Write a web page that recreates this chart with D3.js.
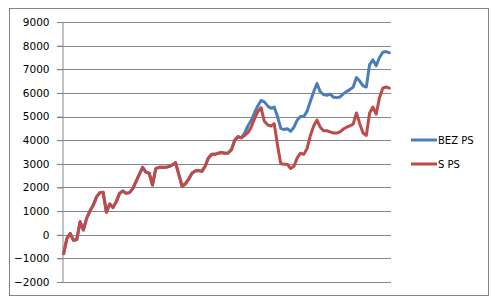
<!DOCTYPE html>
<html>
<head>
<meta charset="utf-8">
<style>
  body { margin: 0; background: #fff; }
  svg text { font-family: "DejaVu Sans", sans-serif; fill: #000; }
</style>
</head>
<body>
<script src="https://d3js.org/d3.v7.min.js"></script>
<script>

// values, one per period
var sPs = [
  -800, -150, 50, -240, -200, 550, 200, 700, 1000, 1250,
  1600, 1780, 1800, 950, 1300, 1150, 1400, 1750, 1850, 1750,
  1780, 1950, 2250, 2550, 2850, 2650, 2600, 2100, 2800, 2850,
  2850, 2850, 2880, 2950, 3050, 2550, 2050, 2150, 2350, 2600,
  2700, 2720, 2680, 2900, 3250, 3400, 3400, 3450, 3480, 3450,
  3460, 3600, 4000, 4150, 4100, 4200, 4320, 4550, 4900, 5200,
  5380, 4800, 4650, 4600, 4700, 3800, 3000, 2980, 2980, 2800,
  2900, 3250, 3450, 3400, 3650, 4200, 4600, 4850, 4550, 4400,
  4400, 4350, 4300, 4300, 4350, 4470, 4550, 4610, 4680, 5150,
  4700, 4300, 4200, 5150, 5400, 5100, 5800, 6200, 6250, 6200
];

var bezPs = sPs.slice(0, 55).concat([
  4300, 4600, 4830, 5150, 5450,
  5680, 5620, 5450, 5350, 5400, 5000, 4500, 4450, 4480, 4380,
  4550, 4850, 5000, 5000, 5230, 5650, 6050, 6400, 6050, 5930,
  5900, 5950, 5820, 5800, 5830, 5960, 6060, 6140, 6250, 6650,
  6500, 6300, 6250, 7200, 7400, 7150, 7500, 7720, 7750, 7700
]);

var seriesNames = ['BEZ PS', 'S PS'],
    seriesColors = ['#4a7ebb', '#be4b48'];

var yTicks = [-2000, -1000, 0, 1000, 2000, 3000, 4000, 5000, 6000, 7000, 8000, 9000];

var width = 497,
    height = 306;

var plot = {left: 62, right: 391, top: 22, bottom: 282};

var svg = d3.select('body').append('svg')
    .attr('width', width)
    .attr('height', height);

// chart border
svg.append('rect')
    .attr('x', 9.5).attr('y', 8.5)
    .attr('width', 479).attr('height', 287)
    .attr('fill', '#fff')
    .attr('stroke', '#868686');

var x = d3.scalePoint()
    .domain(d3.range(sPs.length))
    .range([plot.left, plot.right])
    .padding(0.5);

var y = d3.scaleLinear()
    .domain([-2000, 9000])
    .range([plot.bottom, plot.top]);

// gridlines
svg.append('g')
    .selectAll('line')
    .data(yTicks)
    .join('line')
    .attr('x1', plot.left - 5)
    .attr('x2', plot.right)
    .attr('y1', function(d) { return Math.round(y(d)) + 0.5; })
    .attr('y2', function(d) { return Math.round(y(d)) + 0.5; })
    .attr('stroke', '#868686');

var yAxis = svg.append('g')
    .attr('transform', 'translate(' + (plot.left + 0.5) + ',0)')
    .call(d3.axisLeft(y).tickValues(yTicks).tickSize(5).tickPadding(8).tickFormat(d3.format('d')));
yAxis.select('.domain').attr('stroke', '#868686');
yAxis.selectAll('.tick line').attr('stroke', '#868686');
yAxis.selectAll('text')
    .style('font-size', '10.5px')
    .attr('fill', '#000');

var line = d3.line()
    .x(function(d, i) { return x(i); })
    .y(function(d) { return y(d); });

[bezPs, sPs].forEach(function(values, k) {
  svg.append('path')
      .datum(values)
      .attr('d', line)
      .attr('fill', 'none')
      .attr('stroke', seriesColors[k])
      .attr('stroke-width', 3)
      .attr('stroke-linejoin', 'round')
      .attr('stroke-linecap', 'round');
});

// legend
var legend = svg.append('g')
    .selectAll('g')
    .data(seriesNames)
    .join('g')
    .attr('transform', function(d, i) { return 'translate(411,' + (140 + i * 24) + ')'; });

legend.append('line')
    .attr('x1', 0).attr('x2', 26)
    .attr('stroke', function(d, i) { return seriesColors[i]; })
    .attr('stroke-width', 3);

legend.append('text')
    .attr('x', 27)
    .attr('dy', '0.36em')
    .style('font-size', '10px')
    .text(function(d) { return d; });

</script>
</body>
</html>
